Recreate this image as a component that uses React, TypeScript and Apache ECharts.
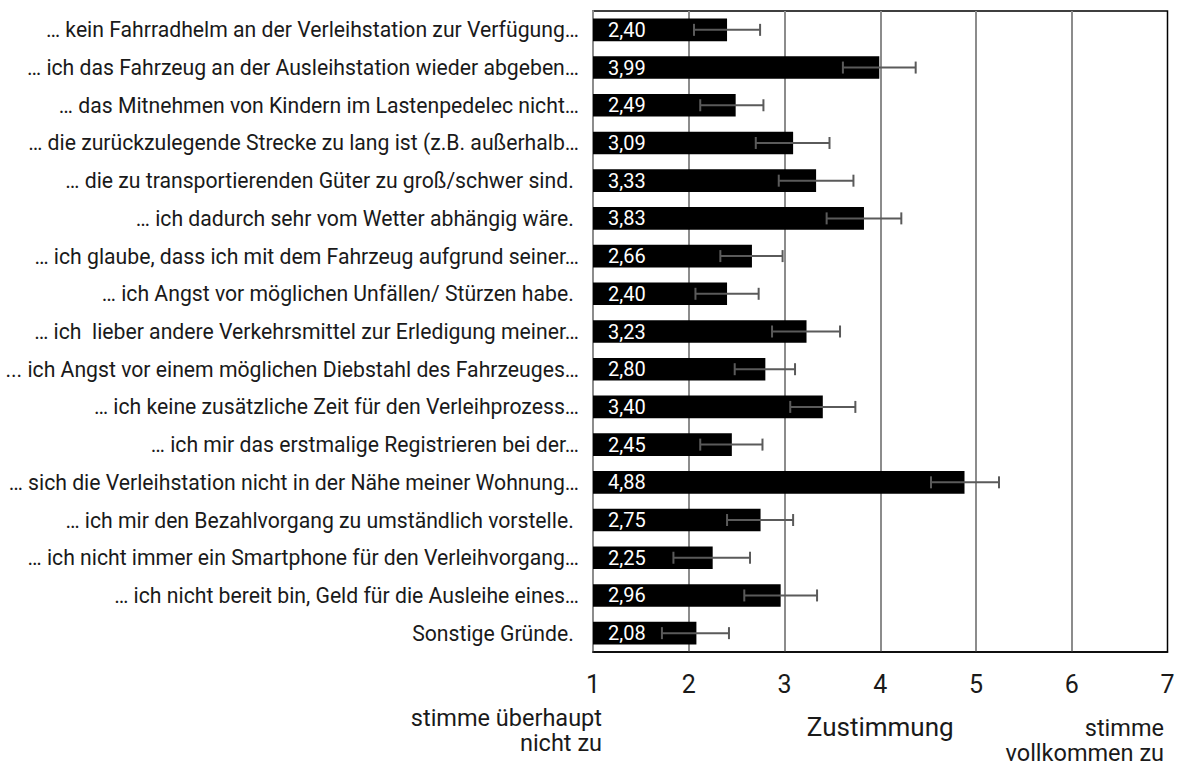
import React, { useEffect, useRef } from "react";
import * as echarts from "echarts";

const categories = [
  "… kein Fahrradhelm an der Verleihstation zur Verfügung…",
  "… ich das Fahrzeug an der Ausleihstation wieder abgeben…",
  "… das Mitnehmen von Kindern im Lastenpedelec nicht…",
  "… die zurückzulegende Strecke zu lang ist (z.B. außerhalb…",
  "… die zu transportierenden Güter zu groß/schwer sind. ",
  "… ich dadurch sehr vom Wetter abhängig wäre. ",
  "… ich glaube, dass ich mit dem Fahrzeug aufgrund seiner…",
  "… ich Angst vor möglichen Unfällen/ Stürzen habe. ",
  "… ich  lieber andere Verkehrsmittel zur Erledigung meiner…",
  "... ich Angst vor einem möglichen Diebstahl des Fahrzeuges…",
  "… ich keine zusätzliche Zeit für den Verleihprozess…",
  "… ich mir das erstmalige Registrieren bei der…",
  "… sich die Verleihstation nicht in der Nähe meiner Wohnung…",
  "… ich mir den Bezahlvorgang zu umständlich vorstelle. ",
  "… ich nicht immer ein Smartphone für den Verleihvorgang…",
  "… ich nicht bereit bin, Geld für die Ausleihe eines…",
  "Sonstige Gründe. ",
];

const means = [2.4, 3.99, 2.49, 3.09, 3.33, 3.83, 2.66, 2.4, 3.23, 2.8, 3.4, 2.45, 4.88, 2.75, 2.25, 2.96, 2.08];

const errLow = [2.055, 3.61, 2.12, 2.70, 2.94, 3.44, 2.33, 2.07, 2.87, 2.48, 3.06, 2.12, 4.53, 2.40, 1.84, 2.58, 1.72];
const errHigh = [2.745, 4.37, 2.78, 3.47, 3.72, 4.22, 2.98, 2.73, 3.58, 3.11, 3.74, 2.77, 5.24, 3.09, 2.64, 3.34, 2.42];

const xTicks = [1, 2, 3, 4, 5, 6, 7];
const axisTitle = "Zustimmung";
const leftEndLabel = ["stimme überhaupt", "nicht zu"];
const rightEndLabel = ["stimme", "vollkommen zu"];

const FONT = "Roboto, 'Noto Sans', sans-serif";
const TEXT = "#1a1a1a";

export default function App() {
  const ref = useRef<HTMLDivElement>(null);

  useEffect(() => {
    if (!ref.current) return;
    const chart = echarts.init(ref.current, null, { renderer: "svg" });

    const errData = categories.map((_, i) => [i, errLow[i], errHigh[i]]);

    chart.setOption({
      animation: false,
      textStyle: { fontFamily: FONT },
      grid: {
        left: 593,
        top: 11,
        width: 574.5,
        height: 641,
        outerBoundsMode: "none",
        containLabel: false,
        show: true,
        borderColor: "#000",
        borderWidth: 1.5,
        backgroundColor: "transparent",
      },
      xAxis: {
        type: "value",
        min: xTicks[0],
        max: xTicks[xTicks.length - 1],
        interval: 1,
        name: axisTitle,
        nameLocation: "middle",
        nameGap: 62,
        nameTextStyle: { fontSize: 26, color: TEXT, fontFamily: FONT, verticalAlign: "top" },
        axisLine: { show: true, lineStyle: { color: "#000", width: 1.5 } },
        axisTick: { show: false },
        axisLabel: { fontSize: 25, color: TEXT, margin: 20, fontFamily: FONT },
        splitLine: {
          show: true,
          showMinLine: false,
          showMaxLine: false,
          lineStyle: { color: "#8c8c8c", width: 2 },
        },
      },
      yAxis: {
        type: "category",
        data: categories,
        inverse: true,
        axisLine: { show: true, lineStyle: { color: "#8c8c8c", width: 2 } },
        axisTick: { show: false },
        axisLabel: { fontSize: 21.2, color: TEXT, margin: 14, fontFamily: FONT },
        splitLine: { show: false },
      },
      series: [
        {
          type: "bar",
          data: means,
          barWidth: "60%",
          itemStyle: { color: "#000" },
          label: {
            show: true,
            position: "insideLeft",
            distance: 15,
            color: "#fff",
            fontSize: 20,
            fontFamily: FONT,
            formatter: (p: any) => Number(p.value).toFixed(2).replace(".", ","),
          },
          z: 2,
        },
        {
          type: "custom",
          data: errData,
          z: 5,
          encode: { x: [1, 2], y: 0 },
          renderItem: (params: any, api: any) => {
            const idx = api.value(0);
            const lo = api.coord([api.value(1), idx]);
            const hi = api.coord([api.value(2), idx]);
            const half = 6;
            const style = { stroke: "#5a5a5a", lineWidth: 2, fill: "none" };
            return {
              type: "group",
              children: [
                { type: "line", shape: { x1: lo[0], y1: lo[1], x2: hi[0], y2: hi[1] }, style },
                { type: "line", shape: { x1: lo[0], y1: lo[1] - half, x2: lo[0], y2: lo[1] + half }, style },
                { type: "line", shape: { x1: hi[0], y1: hi[1] - half, x2: hi[0], y2: hi[1] + half }, style },
              ],
            };
          },
        },
      ],
      graphic: [
        {
          type: "text",
          x: 602,
          y: 705,
          style: {
            text: leftEndLabel.join("\n"),
            fontSize: 23.5,
            lineHeight: 25,
            fill: TEXT,
            fontFamily: FONT,
            align: "right",
            verticalAlign: "top",
          },
        },
        {
          type: "text",
          x: 1164,
          y: 716,
          style: {
            text: rightEndLabel.join("\n"),
            fontSize: 23.5,
            lineHeight: 24.5,
            fill: TEXT,
            fontFamily: FONT,
            align: "right",
            verticalAlign: "top",
          },
        },
      ],
    });

    return () => chart.dispose();
  }, []);

  return <div ref={ref} style={{ width: 1183, height: 767, position: "absolute", left: 0, top: 0 }} />;
}
